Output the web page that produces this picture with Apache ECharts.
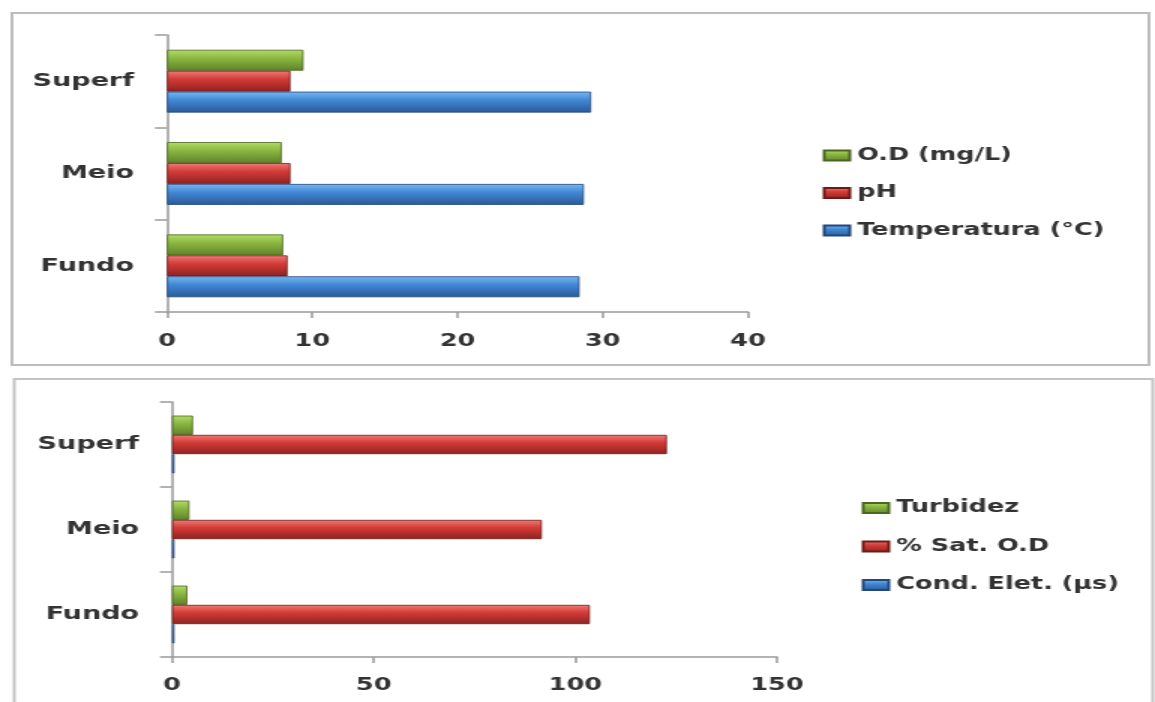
<!DOCTYPE html>
<html>
<head>
<meta charset="utf-8">
<script src="https://cdn.jsdelivr.net/npm/echarts@6/dist/echarts.min.js"></script>
<style>
  html, body { margin: 0; padding: 0; background: #fff; overflow: hidden; }
  #wrap { width: 1155px; height: 702px; overflow: hidden; }
  /* the drawing is laid out narrow and widened 1.5x, like the wide-set original figure */
  #chart { width: 770px; height: 702px; transform: scaleX(1.5); transform-origin: 0 0; }
</style>
</head>
<body>
<div id="wrap"><div id="chart"></div></div>
<script>
// Depth levels (bottom to top on the axis)
const depths = ['Fundo', 'Meio', 'Superf'];

// Upper panel
const temperatura = [28.4, 28.7, 29.2];   // Temperatura (°C)
const ph = [8.3, 8.5, 8.5];               // pH
const odMgL = [8.0, 7.9, 9.4];            // O.D (mg/L)

// Lower panel
const condEletrica = [0.6, 0.6, 0.6];     // Cond. Elet. (µs)
const satOD = [103.6, 91.7, 122.7];       // % Sat. O.D
const turbidez = [3.8, 4.3, 5.2];         // Turbidez

// Value-axis ranges
const topAxis = { max: 40, interval: 10 };
const bottomAxis = { max: 150, interval: 50 };

const FONT = 'DejaVu Sans';
const TXT = '#333333';

function grad(light, mid, dark) {
  return new echarts.graphic.LinearGradient(0, 0, 0, 1, [
    { offset: 0, color: light },
    { offset: 0.4, color: mid },
    { offset: 1, color: dark }
  ]);
}
const styles = {
  blue:  { color: grad('#78b8f2', '#4288d6', '#2a5a98'), borderColor: '#24467a', borderWidth: 0.8 },
  red:   { color: grad('#f07b76', '#d43c38', '#8e2220'), borderColor: '#6e1a18', borderWidth: 0.8 },
  green: { color: grad('#b2dc66', '#8bb843', '#5f8228'), borderColor: '#4a6620', borderWidth: 0.8 }
};

function catAxis(gridIndex) {
  return {
    type: 'category', gridIndex, data: depths,
    axisLine: { lineStyle: { color: '#9a9a9a', width: 1.5 } },
    axisTick: { show: true, length: 8, alignWithLabel: false, lineStyle: { color: '#9a9a9a', width: 1.5 } },
    axisLabel: { color: TXT, fontFamily: FONT, fontWeight: 'bold', fontSize: 18, margin: 22 },
    splitLine: { show: false }
  };
}
function valAxis(gridIndex, cfg, margin) {
  return {
    type: 'value', gridIndex, min: 0, max: cfg.max, interval: cfg.interval,
    axisLine: { show: true, lineStyle: { color: '#9a9a9a', width: 1.5 } },
    axisTick: { show: true, length: 6, lineStyle: { color: '#9a9a9a', width: 1.5 } },
    axisLabel: { color: TXT, fontFamily: FONT, fontWeight: 'bold', fontSize: 17, margin },
    splitLine: { show: false }
  };
}
function bar(name, data, style, idx) {
  return {
    type: 'bar', name, data, xAxisIndex: idx, yAxisIndex: idx,
    barGap: '0%', barCategoryGap: '32%', itemStyle: style,
    emphasis: { disabled: true }, animation: false
  };
}
function legend(names, left, top, gap) {
  return {
    orient: 'vertical', left, top, padding: 0, icon: 'rect',
    itemWidth: 17, itemHeight: 10, itemGap: gap, data: names,
    textStyle: { color: TXT, fontFamily: FONT, fontWeight: 'bold', fontSize: 17 },
    selectedMode: false
  };
}

const chart = echarts.init(document.getElementById('chart'), null, { renderer: 'canvas' });
chart.setOption({
  backgroundColor: '#ffffff',
  animation: false,
  graphic: [
    { type: 'rect', shape: { x: 8, y: 13, width: 758, height: 352 },
      style: { fill: 'none', stroke: '#bdbdbd', lineWidth: 2 }, silent: true },
    { type: 'rect', shape: { x: 9.5, y: 379, width: 759, height: 360 },
      style: { fill: 'none', stroke: '#c4c4c4', lineWidth: 2 }, silent: true }
  ],
  grid: [
    { left: 111.3, right: 271.3, top: 35, height: 277, containLabel: false },
    { left: 114.7, right: 252, top: 402, height: 255, containLabel: false }
  ],
  legend: [
    legend(['O.D (mg/L)', 'pH', 'Temperatura (°C)'], 548.5, 147, 20.5),
    legend(['Turbidez', '% Sat. O.D', 'Cond. Elet. (µs)'], 574.5, 499.5, 21.5)
  ],
  xAxis: [valAxis(0, topAxis, 21), valAxis(1, bottomAxis, 20)],
  yAxis: [catAxis(0), catAxis(1)],
  // within each depth the first series sits on top
  series: [
    bar('O.D (mg/L)', odMgL, styles.green, 0),
    bar('pH', ph, styles.red, 0),
    bar('Temperatura (°C)', temperatura, styles.blue, 0),
    bar('Turbidez', turbidez, styles.green, 1),
    bar('% Sat. O.D', satOD, styles.red, 1),
    bar('Cond. Elet. (µs)', condEletrica, styles.blue, 1)
  ]
});
</script>
</body>
</html>
